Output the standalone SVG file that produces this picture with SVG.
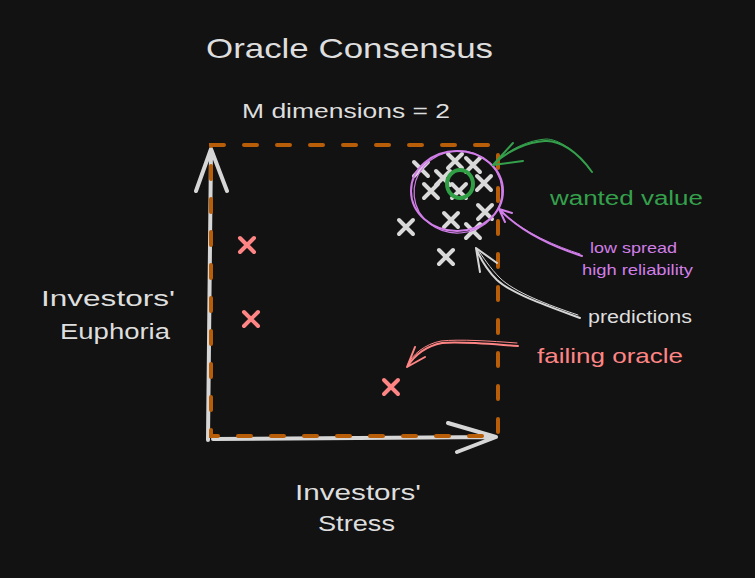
<svg xmlns="http://www.w3.org/2000/svg" width="755" height="578" viewBox="0 0 755 578">
<style>
text{font-family:"Liberation Sans","Noto Sans",sans-serif;}
.w{fill:#dedede}
.g{fill:#35a04c}
.p{fill:#d17ee8}
.r{fill:#ff8585}
.xg{stroke:#d9d9d9;stroke-width:4;stroke-linecap:round;fill:none}
.xr{stroke:#ff8585;stroke-width:4;stroke-linecap:round;fill:none}
.ax{stroke:#d6d6d6;stroke-width:4;stroke-linecap:round;stroke-linejoin:round;fill:none}
.box{stroke:#b85d08;stroke-width:4;stroke-linecap:round;fill:none;stroke-dasharray:13 20}
.conn{fill:none;stroke-linecap:round;stroke-linejoin:round}
</style>
<defs>
<path id="x" d="M-7 -7L7 7M7 -7L-7 7"/>
</defs>
<rect width="755" height="578" fill="#121212"/>

<g id="title">
<text class="w" x="206" y="58" font-size="28" textLength="287" lengthAdjust="spacingAndGlyphs">Oracle Consensus</text>
</g>
<g id="subtitle">
<text class="w" x="242" y="118" font-size="20" textLength="208" lengthAdjust="spacingAndGlyphs">M dimensions = 2</text>
</g>

<g id="axes">
<path class="ax" d="M208 440L211 149M196 191L211 149L227 191"/>
<path class="ax" d="M213 439L496 437M448 423L496 437L457 452"/>
</g>

<g id="box">
<path class="box" d="M211 145H498V436H211Z"/>
</g>

<g id="predictions-points">
<use href="#x" class="xg" x="421" y="169"/>
<use href="#x" class="xg" x="455" y="161"/>
<use href="#x" class="xg" x="473" y="165"/>
<use href="#x" class="xg" x="443" y="178"/>
<use href="#x" class="xg" x="431" y="191"/>
<use href="#x" class="xg" x="459" y="191"/>
<use href="#x" class="xg" x="484" y="183"/>
<use href="#x" class="xg" x="485" y="212"/>
<use href="#x" class="xg" x="451" y="220"/>
<use href="#x" class="xg" x="473" y="231"/>
<use href="#x" class="xg" x="406" y="227"/>
<use href="#x" class="xg" x="446" y="257"/>
</g>

<g id="failing-points">
<use href="#x" class="xr" x="247" y="245"/>
<use href="#x" class="xr" x="251" y="319"/>
<use href="#x" class="xr" x="391" y="387"/>
</g>

<g id="spread-ellipse">
<ellipse cx="457" cy="191" rx="46" ry="40" fill="none" stroke="#d17ee8" stroke-width="2"/>
<ellipse cx="458" cy="192" rx="44" ry="41" fill="none" stroke="#d17ee8" stroke-width="1.2" transform="rotate(-6 458 192)"/>
</g>

<g id="wanted-circle">
<ellipse cx="460" cy="184" rx="13" ry="14" fill="none" stroke="#2f9e44" stroke-width="4"/>
</g>

<g id="connectors">
<path class="conn" stroke="#35a04c" stroke-width="2" d="M592 172C578 152 560 140 545 141C528 142 508 150 493 165M513 143L493 165L523 161"/>
<path class="conn" stroke="#35a04c" stroke-width="1" d="M590 170C576 150 558 139 546 139C530 140 510 148 495 163"/>
<path class="conn" stroke="#d17ee8" stroke-width="2" d="M582 256C560 249 525 236 499 209M512 213L499 209L505 222"/>
<path class="conn" stroke="#d17ee8" stroke-width="1" d="M580 254C558 247 523 233 501 211"/>
<path class="conn" stroke="#d6d6d6" stroke-width="2" d="M580 318C550 307 512 294 497 280C487 270 480 258 476 248M480 272L476 248L497 263"/>
<path class="conn" stroke="#d6d6d6" stroke-width="1" d="M578 315C548 305 514 292 500 278C490 268 483 257 478 250"/>
<path class="conn" stroke="#ff8585" stroke-width="2" d="M518 346C490 344 460 341 442 343C426 346 414 356 407 367M415 347L407 367L425 357"/>
<path class="conn" stroke="#ff8585" stroke-width="1" d="M517 343C490 341 460 339 441 341C425 344 412 355 408 364"/>
</g>

<g id="label-wanted">
<text class="g" x="550" y="205" font-size="20" textLength="153" lengthAdjust="spacingAndGlyphs">wanted value</text>
</g>
<g id="label-spread">
<text class="p" x="590" y="253" font-size="15" textLength="87" lengthAdjust="spacingAndGlyphs">low spread</text>
<text class="p" x="582" y="275" font-size="15" textLength="111" lengthAdjust="spacingAndGlyphs">high reliability</text>
</g>
<g id="label-predictions">
<text class="w" x="588" y="323" font-size="18" textLength="104" lengthAdjust="spacingAndGlyphs">predictions</text>
</g>
<g id="label-failing">
<text class="r" x="537" y="363" font-size="21" textLength="146" lengthAdjust="spacingAndGlyphs">failing oracle</text>
</g>
<g id="label-euphoria">
<text class="w" x="41" y="306" font-size="22" textLength="134" lengthAdjust="spacingAndGlyphs">Investors'</text>
<text class="w" x="60" y="339" font-size="22" textLength="110" lengthAdjust="spacingAndGlyphs">Euphoria</text>
</g>
<g id="label-stress">
<text class="w" x="295" y="500" font-size="22" textLength="126" lengthAdjust="spacingAndGlyphs">Investors'</text>
<text class="w" x="318" y="531" font-size="22" textLength="77" lengthAdjust="spacingAndGlyphs">Stress</text>
</g>
</svg>
